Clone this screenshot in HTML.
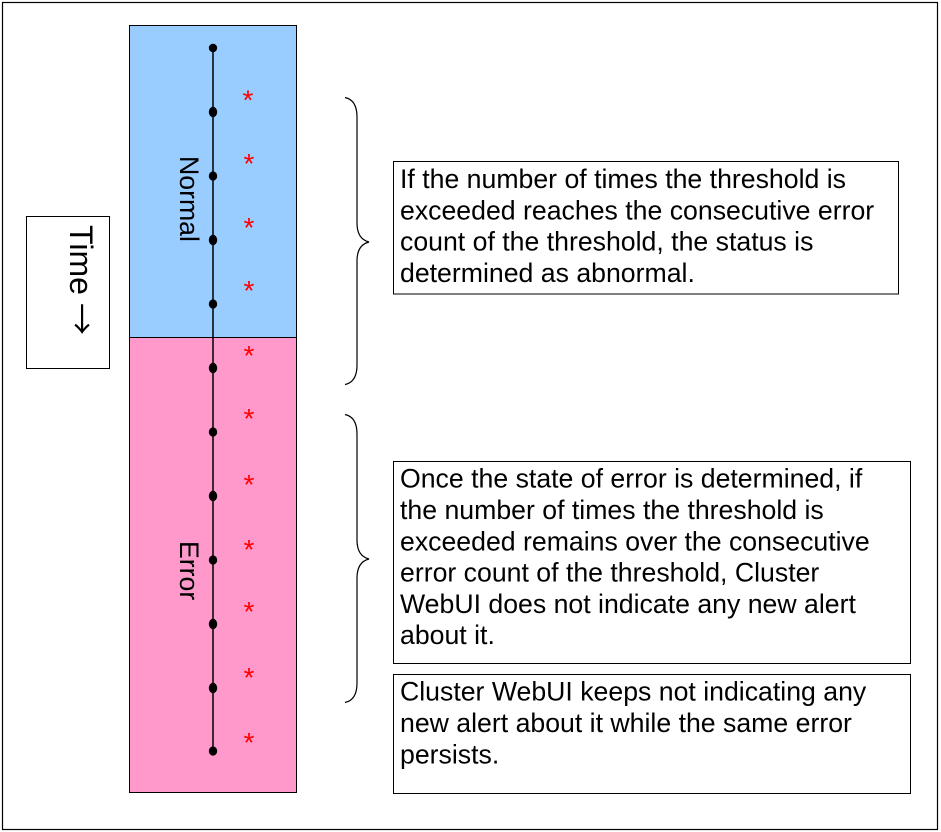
<!DOCTYPE html>
<html>
<head>
<meta charset="utf-8">
<style>
  html,body{margin:0;padding:0;background:#fff;}
  svg{display:block;}
  text{font-family:"Liberation Sans", Arial, sans-serif;}
</style>
</head>
<body>
<svg width="941" height="832" viewBox="0 0 941 832" xmlns="http://www.w3.org/2000/svg">
  <rect x="0" y="0" width="941" height="832" fill="#fff"/>
  <!-- outer border -->
  <rect x="2.5" y="2.5" width="935" height="827" fill="none" stroke="#000" stroke-width="1.2"/>

  <!-- Time box -->
  <rect x="26.5" y="216.5" width="83" height="152" fill="#fff" stroke="#000" stroke-width="1"/>
  <text transform="translate(70,225) rotate(90)" font-size="32" fill="#000">Time</text>
  <text transform="translate(70,303) rotate(90)" font-size="32" fill="#000" style='font-family:"Noto Sans CJK JP","DejaVu Sans",sans-serif;'>→</text>

  <!-- column -->
  <rect x="129.5" y="25.5" width="167" height="312" fill="#99CCFF" stroke="#000" stroke-width="1"/>
  <rect x="129.5" y="337.5" width="167" height="455" fill="#FF99CC" stroke="#000" stroke-width="1"/>

  <text transform="translate(180,156) rotate(90)" font-size="26.67" fill="#000">Normal</text>
  <text transform="translate(180,541) rotate(90)" font-size="26.67" fill="#000">Error</text>

  <!-- time line -->
  <line x1="213" y1="48" x2="213" y2="751" stroke="#000" stroke-width="1.5"/>
  <g fill="#000">
    <ellipse cx="213" cy="48" rx="4.2" ry="4.2"/>
    <ellipse cx="213" cy="112" rx="4.2" ry="5.2"/>
    <ellipse cx="213" cy="176" rx="4.2" ry="4.6"/>
    <ellipse cx="213" cy="240" rx="4.2" ry="5.2"/>
    <ellipse cx="213" cy="304" rx="4.2" ry="4.6"/>
    <ellipse cx="213" cy="368" rx="4.2" ry="5.2"/>
    <ellipse cx="213" cy="432" rx="4.2" ry="4.6"/>
    <ellipse cx="213" cy="496" rx="4.2" ry="5.2"/>
    <ellipse cx="213" cy="560" rx="4.2" ry="4.6"/>
    <ellipse cx="213" cy="624" rx="4.2" ry="5.2"/>
    <ellipse cx="213" cy="688" rx="4.2" ry="5.2"/>
    <ellipse cx="213" cy="751" rx="4.2" ry="4.6"/>
  </g>

  <!-- asterisks -->
  <g fill="#FF0000" font-size="28" text-anchor="middle">
    <text x="248" y="109.5">*</text>
    <text x="249" y="173">*</text>
    <text x="249" y="237">*</text>
    <text x="249" y="300">*</text>
    <text x="249" y="365">*</text>
    <text x="249" y="428">*</text>
    <text x="249" y="494">*</text>
    <text x="249" y="559">*</text>
    <text x="249" y="621">*</text>
    <text x="249" y="687">*</text>
    <text x="249" y="752">*</text>
  </g>

  <!-- braces -->
  <path d="M345,97.5 Q357,100 357,117 L357,223 Q357,239 369,242 Q357,245 357,261 L357,365 Q357,382 345,384.5" fill="none" stroke="#000" stroke-width="1.2"/>
  <path d="M345,414.5 Q357,417 357,434 L357,540 Q357,556 369,559 Q357,562 357,578 L357,683 Q357,700 345,702.5" fill="none" stroke="#000" stroke-width="1.2"/>

  <!-- text box 1 -->
  <rect x="393.5" y="161.5" width="505" height="132.5" fill="#fff" stroke="#000" stroke-width="1"/>
  <g font-size="26.67" fill="#000">
    <text x="400" y="188">If the number of times the threshold is</text>
    <text x="400" y="219.3">exceeded reaches the consecutive error</text>
    <text x="400" y="250.6">count of the threshold, the status is</text>
    <text x="400" y="281.9">determined as abnormal.</text>
  </g>

  <!-- text box 2 -->
  <rect x="393.5" y="461.5" width="517" height="202" fill="#fff" stroke="#000" stroke-width="1"/>
  <g font-size="26.67" fill="#000">
    <text x="400" y="487.7">Once the state of error is determined, if</text>
    <text x="400" y="519">the number of times the threshold is</text>
    <text x="400" y="550.3">exceeded remains over the consecutive</text>
    <text x="400" y="581.6">error count of the threshold, Cluster</text>
    <text x="400" y="612.9">WebUI does not indicate any new alert</text>
    <text x="400" y="644.2">about it.</text>
  </g>

  <!-- text box 3 -->
  <rect x="393.5" y="674.5" width="517" height="119" fill="#fff" stroke="#000" stroke-width="1"/>
  <g font-size="26.67" fill="#000">
    <text x="400" y="700.7">Cluster WebUI keeps not indicating any</text>
    <text x="400" y="732">new alert about it while the same error</text>
    <text x="400" y="763.3">persists.</text>
  </g>
</svg>
</body>
</html>
